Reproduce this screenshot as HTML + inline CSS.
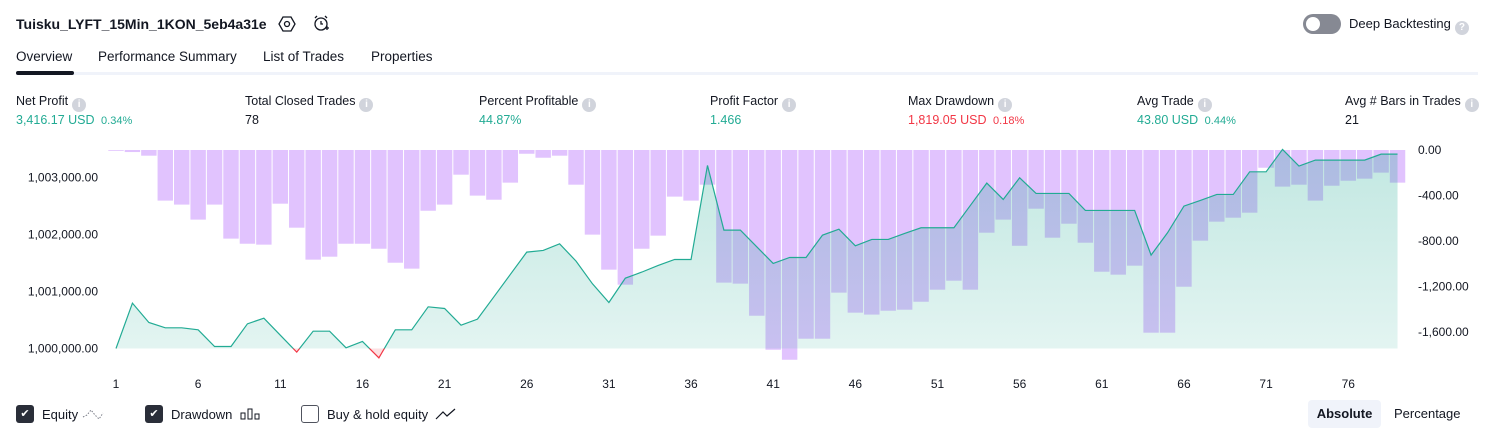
<!DOCTYPE html>
<html><head><meta charset="utf-8">
<style>
body{margin:0;width:1494px;height:438px;background:#fff;font-family:"Liberation Sans",sans-serif;color:#131722;overflow:hidden;position:relative}
.a{position:absolute;white-space:nowrap}
.lbl{font-size:12.5px;height:16px}
.val{font-size:12.5px}
.info{display:inline-block;width:14px;height:14px;border-radius:50%;background:#d1d4dc;color:#fff;font-size:10px;text-align:center;line-height:14px;vertical-align:-2px;margin-left:4px;font-weight:bold}
.g{color:#22ab94}.r{color:#f23645}
.leg{display:flex;align-items:center;font-size:13px;height:20px}
.cb{display:inline-block;width:18px;height:18px;border-radius:3px;margin-right:8px;box-sizing:border-box}
.cbk{background:#2a2e39;color:#fff;font-size:11px;text-align:center;line-height:18px}
</style></head><body>
<div class="a" style="left:16px;top:16px;font-size:14px;font-weight:bold">Tuisku_LYFT_15Min_1KON_5eb4a31e</div>
<svg class="a" style="left:278px;top:15px" width="18" height="18" viewBox="0 0 18 18"><polygon points="5,2 13,2 17,9 13,16 5,16 1,9" fill="none" stroke="#131722" stroke-width="1.3"/><circle cx="9" cy="9" r="2.5" fill="none" stroke="#131722" stroke-width="1.3"/></svg>
<svg class="a" style="left:312px;top:14px" width="18" height="18" viewBox="0 0 18 18"><circle cx="9" cy="10" r="6" fill="none" stroke="#131722" stroke-width="1.3"/><path d="M9 7v3h2M3 4l2-2M15 4l-2-2M13 14h4M15 12v4" stroke="#131722" stroke-width="1.3" fill="none"/></svg>
<div class="a" style="left:1303px;top:14px;width:38px;height:20px;border-radius:10px;background:#868993"><div style="position:absolute;left:3px;top:3px;width:14px;height:14px;border-radius:50%;background:#fff"></div></div>
<div class="a" style="left:1349px;top:16px;font-size:13px">Deep Backtesting<span class="info">?</span></div>
<div class="a" style="left:16px;top:49px;font-size:13.5px">Overview</div>
<div class="a" style="left:98px;top:49px;font-size:13.5px">Performance Summary</div>
<div class="a" style="left:263px;top:49px;font-size:13.5px">List of Trades</div>
<div class="a" style="left:371px;top:49px;font-size:13.5px">Properties</div>
<div class="a" style="left:16px;top:72px;width:1462px;height:3px;background:#f0f3fa"></div>
<div class="a" style="left:16px;top:71px;width:58px;height:4px;border-radius:2px;background:#131722"></div>

<div class="a" style="left:16px;top:94px"><div class="lbl">Net Profit<span class="info">i</span></div><div class="val g" style="margin-top:3px">3,416.17 USD <span style="font-size:11px">&nbsp;0.34%</span></div></div>
<div class="a" style="left:245px;top:94px"><div class="lbl">Total Closed Trades<span class="info">i</span></div><div class="val" style="margin-top:3px">78</div></div>
<div class="a" style="left:479px;top:94px"><div class="lbl">Percent Profitable<span class="info">i</span></div><div class="val g" style="margin-top:3px">44.87%</div></div>
<div class="a" style="left:710px;top:94px"><div class="lbl">Profit Factor<span class="info">i</span></div><div class="val g" style="margin-top:3px">1.466</div></div>
<div class="a" style="left:908px;top:94px"><div class="lbl">Max Drawdown<span class="info">i</span></div><div class="val r" style="margin-top:3px">1,819.05 USD <span style="font-size:11px">&nbsp;0.18%</span></div></div>
<div class="a" style="left:1137px;top:94px"><div class="lbl">Avg Trade<span class="info">i</span></div><div class="val g" style="margin-top:3px">43.80 USD <span style="font-size:11px">&nbsp;0.44%</span></div></div>
<div class="a" style="left:1345px;top:94px"><div class="lbl">Avg # Bars in Trades<span class="info">i</span></div><div class="val" style="margin-top:3px">21</div></div>

<svg class="a" id="chart" style="left:0;top:0" width="1494" height="438"></svg>

<div class="a leg" style="left:16px;top:404px"><span class="cb cbk">✔</span>Equity&nbsp;<svg width="24" height="14"><polyline points="1,10 5,8 9,3 13,8 17,12 21,6" fill="none" stroke="#787b86" stroke-dasharray="1.5 1.5"/></svg></div>
<div class="a leg" style="left:145px;top:404px"><span class="cb cbk">✔</span>Drawdown&nbsp;&nbsp;<svg width="22" height="14"><rect x="1" y="6" width="4" height="6" fill="none" stroke="#131722"/><rect x="8" y="2" width="4" height="10" fill="none" stroke="#131722"/><rect x="15" y="7" width="4" height="5" fill="none" stroke="#131722"/></svg></div>
<div class="a leg" style="left:301px;top:404px"><span class="cb" style="border:1.3px solid #50535e"></span>Buy &amp; hold equity&nbsp;&nbsp;<svg width="22" height="14"><polyline points="1,12 8,5 12,9 20,2" fill="none" stroke="#131722" stroke-width="1.2"/></svg></div>
<div class="a" style="left:1308px;top:400px;width:73px;height:28px;background:#f0f3fa;border-radius:4px;font-size:13px;font-weight:bold;text-align:center;line-height:28px">Absolute</div>
<div class="a" style="left:1394px;top:406px;font-size:13px">Percentage</div>

<script>
const equity=[1000000,1000796,1000456,1000363,1000363,1000328,1000035,1000035,1000433,1000532,1000234,999936,1000304,1000304,1000012,1000123,999836,1000328,1000328,1000731,1000702,1000410,1000515,1000907,1001299,1001691,1001720,1001837,1001533,1001135,1000807,1001234,1001340,1001457,1001562,1001562,1003212,1002077,1002077,1001784,1001492,1001597,1001597,1001989,1002094,1001802,1001913,1001913,1002018,1002118,1002118,1002118,1002510,1002902,1002615,1002995,1002720,1002720,1002720,1002422,1002422,1002422,1002422,1001638,1002030,1002498,1002597,1002703,1002703,1003100,1003100,1003492,1003200,1003305,1003305,1003305,1003305,1003410,1003410];
const drawdown=[-6,-18,-50,-445,-480,-612,-480,-779,-824,-832,-472,-683,-964,-938,-824,-824,-868,-991,-1043,-534,-480,-217,-401,-437,-287,-33,-68,-50,-305,-744,-1052,-1184,-868,-753,-410,-445,-305,-1166,-1175,-1457,-1756,-1844,-1659,-1659,-1254,-1430,-1447,-1413,-1404,-1334,-1228,-1149,-1228,-727,-612,-842,-516,-771,-648,-815,-1070,-1096,-1017,-1606,-1606,-1202,-797,-630,-595,-551,-156,-322,-305,-445,-314,-270,-252,-199,-287];
const xTicks=[1,6,11,16,21,26,31,36,41,46,51,56,61,66,71,76];
const leftTicks=[1000000,1001000,1002000,1003000];
const rightTicks=[0,-400,-800,-1200,-1600];
const NS='http://www.w3.org/2000/svg';
const svg=document.getElementById('chart');
const step=16.43;
const X=i=>116+(i-1)*step;
const YL=v=>348.5-(v-1000000)*0.057;
const YR=v=>150-v*0.11375;
function mk(t,a,p){const e=document.createElementNS(NS,t);for(const k in a)e.setAttribute(k,a[k]);(p||svg).appendChild(e);return e;}
const defs=mk('defs',{});
defs.innerHTML='<linearGradient id="gg" x1="0" y1="0" x2="0" y2="1"><stop offset="0" stop-color="#22ab94" stop-opacity="0.28"/><stop offset="1" stop-color="#22ab94" stop-opacity="0.12"/></linearGradient><clipPath id="up"><rect x="0" y="0" width="1494" height="348.5"/></clipPath><clipPath id="dn"><rect x="0" y="348.5" width="1494" height="100"/></clipPath>';
drawdown.forEach((d,i)=>{
  const r=mk('rect',{x:X(i+1)-step/2+0.5,y:150,width:step-1,height:Math.max(0.8,YR(d)-150),fill:'#e1c3fe'});
  
  
});
let pts=equity.map((v,i)=>X(i+1)+','+YL(v)).join(' ');
const base=YL(1000000);
const areaD='M'+X(1)+','+base+' L'+pts.split(' ').join(' L')+' L'+X(equity.length)+','+base+' Z';
const au=mk('path',{d:areaD,fill:'url(#gg)','clip-path':'url(#up)'});


const ad=mk('path',{d:areaD,fill:'rgba(242,54,69,0.15)','clip-path':'url(#dn)'});


const lu=mk('polyline',{points:pts,fill:'none',stroke:'#22ab94','stroke-width':1.2,'clip-path':'url(#up)'});


const ld=mk('polyline',{points:pts,fill:'none',stroke:'#f23645','stroke-width':1.2,'clip-path':'url(#dn)'});


xTicks.forEach(t=>{
  const e=mk('text',{x:X(t),y:388,'text-anchor':'middle','font-size':12,fill:'#131722','font-family':'Liberation Sans, sans-serif'});
  e.textContent=t;
  
  
});
leftTicks.forEach(t=>{
  const e=mk('text',{x:98,y:YL(t)+4,'text-anchor':'end','font-size':12,fill:'#131722','font-family':'Liberation Sans, sans-serif'});
  e.textContent=t.toLocaleString('en-US')+'.00';
  
  
});
rightTicks.forEach(t=>{
  const e=mk('text',{x:1418,y:YR(t)+4,'text-anchor':'start','font-size':12,fill:'#131722','font-family':'Liberation Sans, sans-serif'});
  e.textContent=(t<0?'-':'')+Math.abs(t).toLocaleString('en-US')+'.00';
  
  
});
</script>
</body></html>
